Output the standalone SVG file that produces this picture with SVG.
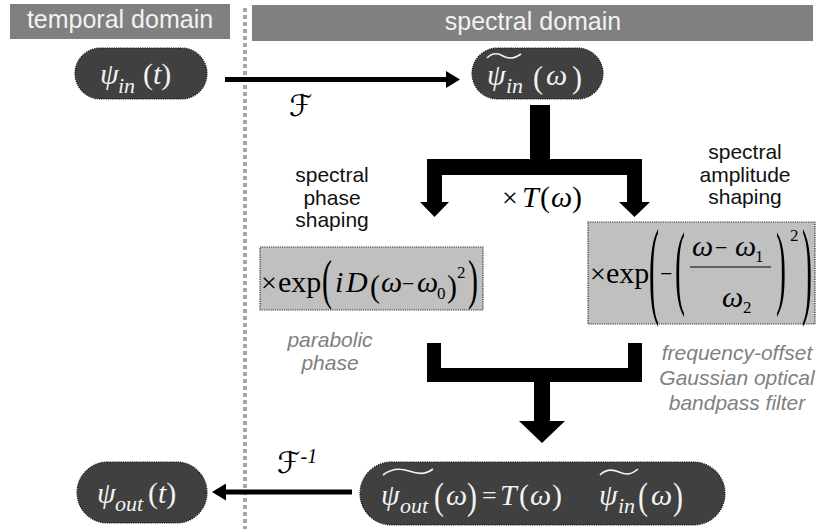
<svg xmlns="http://www.w3.org/2000/svg" width="817" height="529" viewBox="0 0 817 529">
<style>
.hdr{fill:#808080}
.hdrt{font-family:"Liberation Sans",Arial,sans-serif;font-size:25px;fill:#f2f2f2;text-anchor:middle}
.node{fill:#404040;stroke:#111;stroke-width:1.2;stroke-dasharray:1.2 1}
.box{fill:#c0c0c0;stroke:#333;stroke-width:1.2;stroke-dasharray:1.2 1}
.m{font-family:"Liberation Serif","Times New Roman",serif;font-size:30px}
.mw{fill:#f2f2f2}
.mb{fill:#000}
.i{font-style:italic}
.lbl{font-family:"Liberation Sans",Arial,sans-serif;font-size:21px;fill:#111;text-anchor:middle}
.note{font-family:"Liberation Sans",Arial,sans-serif;font-size:21px;font-style:italic;fill:#808080;text-anchor:middle}
.thin{stroke:#000;stroke-width:5;fill:none}
.tl{fill:none;stroke:#f2f2f2;stroke-width:1.6}
.scr{font-family:"DejaVu Serif","DejaVu Sans",serif;font-style:italic;font-size:30px;fill:#000}
.x{font-size:28px}
</style>
<defs>
<marker id="ah" markerUnits="userSpaceOnUse" markerWidth="14" markerHeight="17" viewBox="0 0 14 17" refX="0" refY="8.5" orient="auto">
<path d="M0,0 L14,8.5 L0,17 z" fill="#000"/>
</marker>
</defs>

<g id="headers">
<rect class="hdr" x="10" y="4" width="220" height="35"/>
<text class="hdrt" x="120" y="28">temporal domain</text>
<rect class="hdr" x="252" y="5" width="561" height="36"/>
<text class="hdrt" x="533" y="30">spectral domain</text>
</g>

<g id="divider">
<line x1="245" y1="8" x2="245" y2="529" stroke="#a6a6a6" stroke-width="4" stroke-dasharray="4 3"/>
</g>

<g id="connectors">
<line class="thin" x1="225" y1="79.5" x2="446" y2="79.5" marker-end="url(#ah)"/>
<line class="thin" x1="352" y1="492" x2="226" y2="492" marker-end="url(#ah)"/>
<path d="M530,105 H550 V159 H642 V202 H650 L634.5,217 L619,202 H627 V175 H442 V202 H449 L434.5,217 L420,202 H427 V159 H530 Z" fill="#000"/>
<path d="M427,343 H441 V368 H628 V343 H642 V382 H550 V421 H565 L542,443 L519,421 H534 V382 H427 Z" fill="#000"/>
<text class="scr" x="289" y="116">ℱ</text>
<text class="scr" x="277" y="473">ℱ<tspan font-family="Liberation Serif" font-size="20" dy="-10">-1</tspan></text>
<text class="m mb" x="502" y="207" font-size="28"><tspan class="x">×</tspan><tspan class="i" x="522">T</tspan><tspan x="540">(</tspan><tspan class="i" x="551">ω</tspan><tspan x="572">)</tspan></text>
</g>

<g id="psi_in_t">
<rect class="node" x="75" y="48" width="132" height="51" rx="25.5"/>
<text class="m mw" x="100" y="84"><tspan class="i">ψ</tspan><tspan class="i" font-size="22" x="118" y="93">in</tspan><tspan x="143" y="84">(</tspan><tspan class="i">t</tspan><tspan>)</tspan></text>
</g>

<g id="psi_in_w">
<rect class="node" x="472" y="48" width="131" height="51" rx="25.5"/>
<path class="tl" d="M487,58 C492,53 498,53 503,56 S514,59 521,54"/>
<text class="m mw" x="487" y="85"><tspan class="i">ψ</tspan><tspan class="i" font-size="22" x="506" y="93">in</tspan></text>
<text class="m mw" transform="translate(533,88) scale(1,1.05)">(</text>
<text class="m mw i" x="546" y="85">ω</text>
<text class="m mw" transform="translate(572,88) scale(1,1.05)">)</text>
</g>

<g id="phase_label">
<text class="lbl" x="332" y="182">spectral</text>
<text class="lbl" x="332" y="204.5">phase</text>
<text class="lbl" x="332" y="227">shaping</text>
</g>

<g id="amp_label">
<text class="lbl" x="745" y="159">spectral</text>
<text class="lbl" x="745" y="181.5">amplitude</text>
<text class="lbl" x="745" y="204">shaping</text>
</g>

<g id="phase_box">
<rect class="box" x="260" y="247" width="223" height="63"/>
<g class="m mb" font-size="26">
<text class="x" x="261" y="292">×</text>
<text x="278" y="292">exp</text>
<text transform="translate(322,297.5) scale(1,1.83)">(</text>
<text class="i" x="335" y="292">i</text>
<text class="i" x="346" y="292">D</text>
<text transform="translate(370,296.5) scale(1,1.06)">(</text>
<text class="i" x="381" y="292">ω</text>
<text x="402" y="291" font-size="22">−</text>
<text class="i" x="417" y="292">ω</text>
<text x="437" y="299" font-size="17">0</text>
<text transform="translate(447,296.5) scale(1,1.06)">)</text>
<text x="457" y="278" font-size="17">2</text>
<text transform="translate(468,297.5) scale(1,1.83)">)</text>
</g>
</g>

<g id="amp_box">
<rect class="box" x="588" y="222" width="227" height="102"/>
<g class="m mb" font-size="26">
<text class="x" x="590" y="283">×</text>
<text x="606" y="283">exp</text>
<text transform="translate(649,304.2) scale(1,3.63)">(</text>
<text x="660" y="281" font-size="22">−</text>
<text transform="translate(675,296.8) scale(1,3.11)">(</text>
<text class="i" x="692" y="256">ω</text>
<text x="715" y="255" font-size="22">−</text>
<text class="i" x="735" y="256">ω</text>
<text x="755" y="262" font-size="17">1</text>
<line x1="690" y1="267" x2="771" y2="267" stroke="#000" stroke-width="1.2"/>
<text class="i" x="722" y="307">ω</text>
<text x="743" y="313" font-size="17">2</text>
<text transform="translate(776,296.8) scale(1,3.11)">)</text>
<text x="790" y="241" font-size="17">2</text>
<text transform="translate(802,304.2) scale(1,3.63)">)</text>
</g>
</g>

<g id="notes">
<text class="note" x="330" y="347">parabolic</text>
<text class="note" x="330" y="370">phase</text>
<text class="note" x="737" y="360">frequency-offset</text>
<text class="note" x="737" y="385">Gaussian optical</text>
<text class="note" x="737" y="410">bandpass filter</text>
</g>

<g id="psi_out_w">
<rect class="node" x="360" y="462" width="365" height="63" rx="31.5"/>
<path class="tl" d="M383,475 C392,468 400,468 409,471 S425,475 433,469"/>
<path class="tl" d="M600,475 C606,469 612,469 619,472 S631,475 638,469"/>
<g class="m mw">
<text class="i" x="381" y="505">ψ</text>
<text class="i" x="400" y="513" font-size="22">out</text>
<text transform="translate(434,509.4) scale(1,1.27)">(</text>
<text class="i" x="446" y="505">ω</text>
<text transform="translate(467,509.4) scale(1,1.27)">)</text>
<text x="482" y="504" font-size="26">=</text>
<text class="i" x="500" y="505">T</text>
<text x="519" y="505">(</text>
<text class="i" x="530" y="505">ω</text>
<text x="552" y="505">)</text>
<text class="i" x="599" y="505">ψ</text>
<text class="i" x="618" y="513" font-size="22">in</text>
<text transform="translate(638,509.4) scale(1,1.27)">(</text>
<text class="i" x="651" y="505">ω</text>
<text transform="translate(673,509.4) scale(1,1.27)">)</text>
</g>
</g>

<g id="psi_out_t">
<rect class="node" x="77" y="462" width="130" height="61" rx="30.5"/>
<text class="m mw" x="97" y="503"><tspan class="i">ψ</tspan><tspan class="i" font-size="22" x="115" y="511">out</tspan><tspan x="148" y="503">(</tspan><tspan class="i">t</tspan><tspan>)</tspan></text>
</g>
</svg>
